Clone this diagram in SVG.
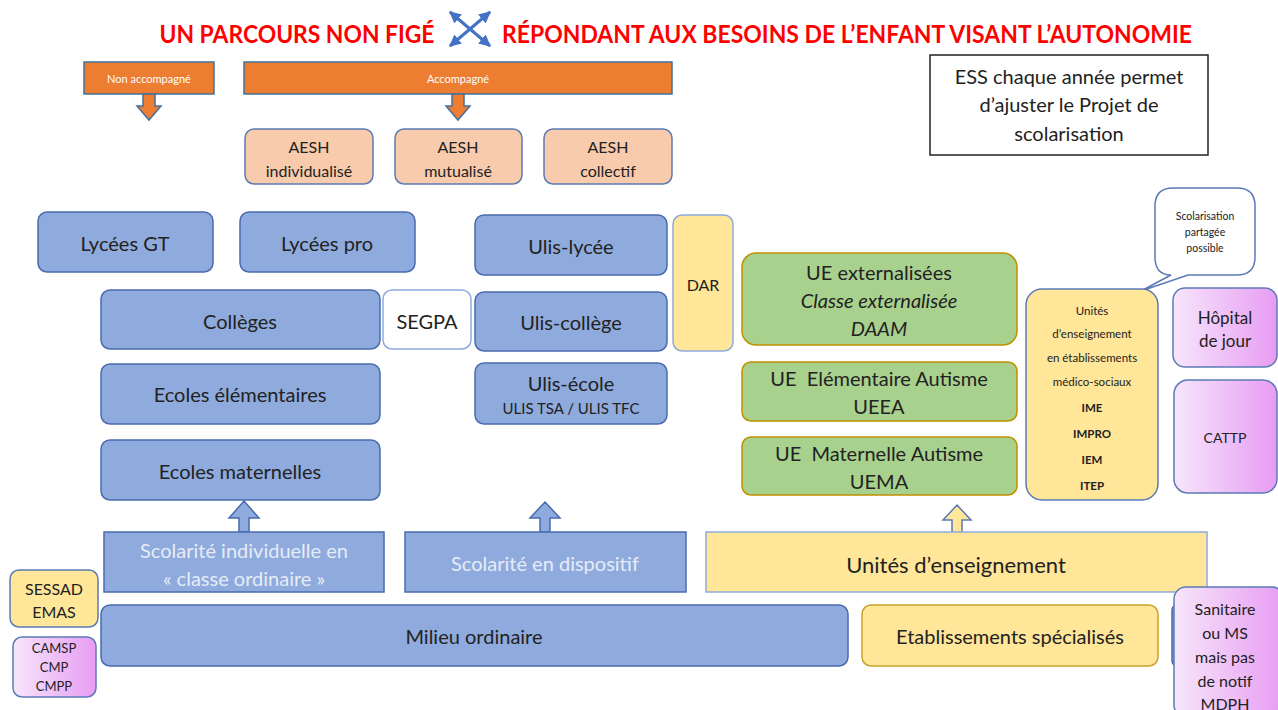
<svg xmlns="http://www.w3.org/2000/svg" width="1278" height="710" viewBox="0 0 1278 710">
<defs>
<style>
text{font-family:Lato,"Open Sans","Liberation Sans",sans-serif;fill:#222;text-anchor:middle;dominant-baseline:central}
.blue{fill:#8FAADC;stroke:#4A6BAF;stroke-width:1.5}
.yel{fill:#FFE699;stroke:#C9A227;stroke-width:1.5}
.yelb{fill:#FFE699;stroke:#5B7BB5;stroke-width:1.5}
.grn{fill:#A9D18E;stroke:#BF9000;stroke-width:1.5}
.pink{fill:url(#pg);stroke:#5B7BB5;stroke-width:1.5}
.peach{fill:#F8CBAD;stroke:#5B7BB5;stroke-width:1.5}
.org{fill:#ED7D31;stroke:#41719C;stroke-width:1.5}
.t20{font-size:20px}
.t16{font-size:16px}
.lt{fill:#E6ECF7}
.title{font-weight:bold;font-size:24px;fill:#FF0000}
.wt{fill:#FFFFFF;font-size:11px}
</style>
<linearGradient id="pg" x1="0" y1="0" x2="1" y2="0">
<stop offset="0" stop-color="#F7E6FB"/>
<stop offset="1" stop-color="#E79CF3"/>
</linearGradient>
<marker id="ah" viewBox="0 0 10 10" refX="9" refY="5" markerWidth="4" markerHeight="4" orient="auto-start-reverse">
<path d="M0,0 L10,5 L0,10 Z" fill="#4472C4"/>
</marker>
</defs>
<rect width="1278" height="710" fill="#FFFFFF"/>

<g id="title">
<text class="title" x="297" y="33" textLength="275" lengthAdjust="spacingAndGlyphs">UN PARCOURS NON FIGÉ</text>
<text class="title" x="847" y="33" textLength="690" lengthAdjust="spacingAndGlyphs">RÉPONDANT AUX BESOINS DE L’ENFANT VISANT L’AUTONOMIE</text>
<g stroke="#4472C4" stroke-width="3">
<line x1="450" y1="12" x2="490" y2="46" marker-start="url(#ah)" marker-end="url(#ah)"/>
<line x1="490" y1="12" x2="450" y2="46" marker-start="url(#ah)" marker-end="url(#ah)"/>
</g>
</g>

<g id="non-accompagne">
<rect class="org" x="84" y="62" width="130" height="32"/>
<text class="wt" x="149" y="78">Non accompagné</text>
<polygon class="org" points="143,94 155,94 155,106 161,106 149,120 137,106 143,106"/>
</g>
<g id="accompagne">
<rect class="org" x="244" y="62" width="428" height="32"/>
<text class="wt" x="458" y="78">Accompagné</text>
<polygon class="org" points="452,94 464,94 464,106 470,106 458,120 446,106 452,106"/>
</g>

<g id="aesh-ind"><rect class="peach" x="245" y="129" width="128" height="55" rx="9"/><text class="t16" x="309" y="146">AESH</text><text class="t16" x="309" y="170">individualisé</text></g>
<g id="aesh-mut"><rect class="peach" x="395" y="129" width="127" height="55" rx="9"/><text class="t16" x="458" y="146">AESH</text><text class="t16" x="458" y="170">mutualisé</text></g>
<g id="aesh-col"><rect class="peach" x="544" y="129" width="128" height="55" rx="9"/><text class="t16" x="608" y="146">AESH</text><text class="t16" x="608" y="170">collectif</text></g>

<g id="ess"><rect x="930" y="55" width="278" height="100" fill="#FFFFFF" stroke="#222" stroke-width="1.5"/>
<text class="t20" x="1069" y="76">ESS chaque année permet</text>
<text class="t20" x="1069" y="104">d’ajuster le Projet de</text>
<text class="t20" x="1069" y="133">scolarisation</text></g>

<g id="lycees-gt"><rect class="blue" x="38" y="212" width="175" height="60" rx="9"/><text class="t20" x="125" y="243">Lycées GT</text></g>
<g id="lycees-pro"><rect class="blue" x="240" y="212" width="175" height="60" rx="9"/><text class="t20" x="327" y="243">Lycées pro</text></g>
<g id="colleges"><rect class="blue" x="101" y="290" width="279" height="59" rx="9"/><text class="t20" x="240" y="321">Collèges</text></g>
<g id="segpa"><rect x="383" y="290" width="88" height="59" rx="9" fill="#FFFFFF" stroke="#8FAADC" stroke-width="1.5"/><text class="t20" x="427" y="321">SEGPA</text></g>
<g id="ecoles-elem"><rect class="blue" x="101" y="364" width="279" height="60" rx="9"/><text class="t20" x="240" y="394">Ecoles élémentaires</text></g>
<g id="ecoles-mat"><rect class="blue" x="101" y="440" width="279" height="60" rx="9"/><text class="t20" x="240" y="471">Ecoles maternelles</text></g>

<g id="ulis-lycee"><rect class="blue" x="475" y="215" width="192" height="60" rx="9"/><text class="t20" x="571" y="246">Ulis-lycée</text></g>
<g id="ulis-college"><rect class="blue" x="475" y="292" width="192" height="59" rx="9"/><text class="t20" x="571" y="322">Ulis-collège</text></g>
<g id="ulis-ecole"><rect class="blue" x="475" y="363" width="192" height="61" rx="9"/><text class="t20" x="571" y="383">Ulis-école</text><text x="571" y="408" font-size="15">ULIS TSA / ULIS TFC</text></g>
<g id="dar"><rect x="673" y="215" width="60" height="136" rx="9" fill="#FFE699" stroke="#8FAADC" stroke-width="1.5"/><text class="t16" x="703" y="284">DAR</text></g>

<g id="ue-ext"><rect class="grn" x="742" y="253" width="275" height="92" rx="14"/>
<text class="t20" x="879" y="272">UE externalisées</text>
<text class="t20" x="879" y="300" font-style="italic">Classe externalisée</text>
<text class="t20" x="879" y="328" font-style="italic">DAAM</text></g>
<g id="ueea"><rect class="grn" x="742" y="362" width="275" height="59" rx="9"/>
<text class="t20" x="879" y="378" xml:space="preserve">UE  Elémentaire Autisme</text>
<text class="t20" x="879" y="406">UEEA</text></g>
<g id="uema"><rect class="grn" x="742" y="437" width="275" height="58" rx="9"/>
<text class="t20" x="879" y="453" xml:space="preserve">UE  Maternelle Autisme</text>
<text class="t20" x="879" y="481">UEMA</text></g>

<g id="bulle"><path d="M1173,188 H1237 Q1255,188 1255,206 V257 Q1255,275 1237,275 H1188 L1141,291 L1171,275 Q1155,275 1155,257 V206 Q1155,188 1173,188 Z" fill="#FFFFFF" stroke="#5B7BB5" stroke-width="1.5"/>
<text x="1205" y="216" font-size="10.5">Scolarisation</text>
<text x="1205" y="232" font-size="10.5">partagée</text>
<text x="1205" y="248" font-size="10.5">possible</text></g>

<g id="ue-ms"><rect class="yelb" x="1026" y="289" width="132" height="211" rx="16"/>
<text x="1092" y="310" font-size="11.5">Unités</text>
<text x="1092" y="333" font-size="11.5">d’enseignement</text>
<text x="1092" y="357" font-size="11.5">en établissements</text>
<text x="1092" y="381" font-size="11.5">médico-sociaux</text>
<text x="1092" y="407" font-size="11.5" font-weight="bold">IME</text>
<text x="1092" y="433" font-size="11.5" font-weight="bold">IMPRO</text>
<text x="1092" y="459" font-size="11.5" font-weight="bold">IEM</text>
<text x="1092" y="485" font-size="11.5" font-weight="bold">ITEP</text></g>

<g id="hopital"><rect class="pink" x="1173" y="288" width="104" height="79" rx="12"/><text x="1225" y="317" font-size="17">Hôpital</text><text x="1225" y="340" font-size="17">de jour</text></g>
<g id="cattp"><rect class="pink" x="1174" y="380" width="103" height="113" rx="14"/><text x="1225" y="437" font-size="14">CATTP</text></g>

<g id="connectors">
<polygon class="blue" points="244,501 259,518 249,518 249,532 239,532 239,518 229,518"/>
<polygon class="blue" points="545,502 560,518 550,518 550,532 540,532 540,518 530,518"/>
<polygon points="957,505 971,520 962,520 962,533 952,533 952,520 943,520" fill="#FFE699" stroke="#5B7BB5" stroke-width="1.5"/>
</g>

<g id="scol-ind"><rect class="blue" x="104" y="532" width="280" height="60"/><text class="t20 lt" x="244" y="550">Scolarité individuelle en</text><text class="t20 lt" x="244" y="578">« classe ordinaire »</text></g>
<g id="scol-disp"><rect class="blue" x="405" y="532" width="281" height="60"/><text class="t20 lt" x="545" y="563">Scolarité en dispositif</text></g>
<g id="unites-ens"><rect x="706" y="532" width="501" height="60" fill="#FFE699" stroke="#8FAADC" stroke-width="1.5"/><text x="956" y="564" font-size="22">Unités d’enseignement</text></g>

<g id="sessad"><rect class="yelb" x="10" y="570" width="88" height="57" rx="9"/><text class="t16" x="54" y="588">SESSAD</text><text class="t16" x="54" y="611">EMAS</text></g>
<g id="camsp"><rect class="pink" x="13" y="637" width="83" height="60" rx="9"/><text x="54" y="648" font-size="13">CAMSP</text><text x="54" y="667" font-size="13">CMP</text><text x="54" y="686" font-size="13">CMPP</text></g>

<g id="milieu-ordinaire"><rect class="blue" x="101" y="605" width="747" height="61" rx="9"/><text class="t20" x="474" y="636">Milieu ordinaire</text></g>
<g id="etab-spec"><rect class="yel" x="862" y="605" width="296" height="61" rx="9"/><text class="t20" x="1010" y="636">Etablissements spécialisés</text></g>
<g id="sliver"><rect class="blue" x="1172" y="605" width="20" height="61" rx="5"/></g>
<g id="sanitaire"><rect class="pink" x="1174" y="587" width="110" height="130" rx="12"/>
<text class="t16" x="1225" y="608">Sanitaire</text>
<text class="t16" x="1225" y="632">ou MS</text>
<text class="t16" x="1225" y="656">mais pas</text>
<text class="t16" x="1225" y="680">de notif</text>
<text class="t16" x="1225" y="703">MDPH</text></g>
</svg>
